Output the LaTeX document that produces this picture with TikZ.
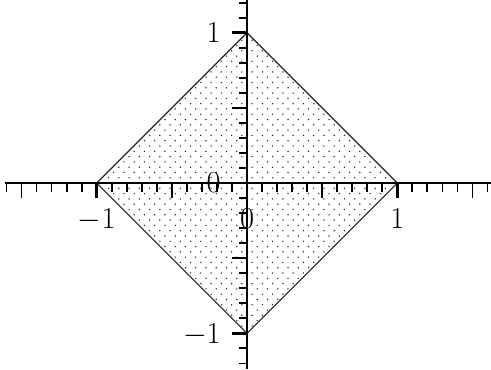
\documentclass[tikz,border=0pt]{standalone}
\begin{document}
\begin{tikzpicture}[x=3cm,y=3cm,
  axisline/.style={line width=1.35pt},
  shorttick/.style={line width=1.05pt},
  halftick/.style={line width=1.05pt},
  majortick/.style={line width=1.9pt},
  lbl/.style={font=\fontsize{17.5}{20}\selectfont, inner sep=0pt},
  dotc/.style={fill=black!85},
  edge/.style={line width=0.65pt, black!85}
]
\useasboundingbox (-1.643,-1.2375) rectangle (1.623,1.2176);
\coordinate (T) at (0,1);
\coordinate (R) at (1,0);
\coordinate (B) at (0,-1);
\coordinate (L) at (-1,0);
\begin{scope}
\clip (T)--(R)--(B)--(L)--cycle;
\fill[dotc] foreach \i in {-30,...,30} { foreach \j in {-16,...,16} {
  ({(\j+0.5*mod(\i,2))*0.0682}, {\i*0.0352}) circle[radius=0.0052] } };
\end{scope}
\draw[edge] (T)--(R)--(B)--(L)--cycle;
\coordinate (xl) at (-1.61,0);
\coordinate (xr) at (1.63,0);
\coordinate (yb) at (0,-1.24);
\coordinate (yt) at (0,1.22);
\draw[axisline] (xl)--(xr);
\draw[axisline] (yb)--(yt);
% x ticks
\foreach \k in {-16,...,16} {
  \pgfmathtruncatemacro{\mten}{mod(abs(\k),10)}
  \pgfmathtruncatemacro{\mfive}{mod(abs(\k),5)}
  \ifnum\k=0 \else
  \ifnum\mten=0
    \draw[majortick] (\k/10,0) -- ++(0,-0.1);
  \else\ifnum\mfive=0
    \draw[halftick] (\k/10,0) -- ++(0,-0.1);
  \else
    \draw[shorttick] (\k/10,0) -- ++(0,-0.058);
  \fi\fi\fi
}
% y ticks
\foreach \k in {-12,...,12} {
  \pgfmathtruncatemacro{\mten}{mod(abs(\k),10)}
  \pgfmathtruncatemacro{\mfive}{mod(abs(\k),5)}
  \ifnum\k=0 \else
  \ifnum\mten=0
    \draw[majortick] (0,\k/10) -- ++(-0.1,0);
  \else\ifnum\mfive=0
    \draw[halftick] (0,\k/10) -- ++(-0.1,0);
  \else
    \draw[shorttick] (0,\k/10) -- ++(-0.055,0);
  \fi\fi\fi
}
\node[lbl, anchor=base] (xm1) at (-1,-0.3) {$-1$};
\node[lbl, anchor=base] (x0) at (0,-0.3) {$0$};
\node[lbl, anchor=base] (x1) at (1,-0.3) {$1$};
\node[lbl, anchor=base east] (ym1) at (-0.173,-1.066) {$-1$};
\node[lbl, anchor=base east] (y0) at (-0.173,-0.066) {$0$};
\node[lbl, anchor=base east] (y1) at (-0.173,0.934) {$1$};
\end{tikzpicture}
\end{document}
